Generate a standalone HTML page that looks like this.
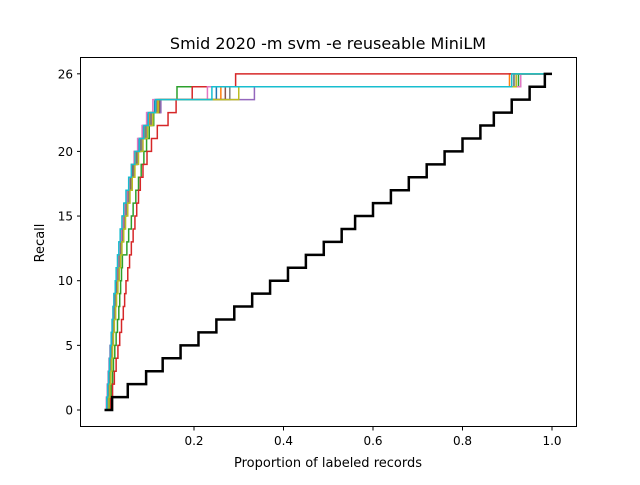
<!DOCTYPE html>
<html><head><meta charset="utf-8"><style>
body{margin:0;background:#fff;font-family:"Liberation Sans","DejaVu Sans",sans-serif}
</style></head><body>
<svg id="chart" width="640" height="480" xmlns="http://www.w3.org/2000/svg">
<rect width="640" height="480" fill="#fff"/>
<text x="328" y="49" text-anchor="middle" font-size="16" font-family="DejaVu Sans, sans-serif">Smid 2020 -m svm -e reuseable MiniLM</text>
<text x="328" y="467" text-anchor="middle" font-size="13" font-family="DejaVu Sans, sans-serif">Proportion of labeled records</text>
<text x="44" y="243" text-anchor="middle" font-size="13" font-family="DejaVu Sans, sans-serif" transform="rotate(-90 44 243)">Recall</text>
<g id="plot"></g>
<rect x="80.5" y="57.5" width="496" height="369" fill="none" stroke="#000" stroke-width="1"/>
<g id="axes"></g>
</svg>
<script>
const xTicks=[0.2,0.4,0.6,0.8,1.0];
const xTickLabels=["0.2","0.4","0.6","0.8","1.0"];
const yTicks=[0,5,10,15,20,26];
const yTickLabels=["0","5","10","15","20","26"];
const colors=["#1f77b4","#ff7f0e","#2ca02c","#d62728","#9467bd","#8c564b","#e377c2","#7f7f7f","#bcbd22","#17becf"];
const randomSteps=[0.017,0.052,0.093,0.13,0.17,0.21,0.25,0.29,0.33,0.37,0.41,0.45,0.49,0.53,0.56,0.60,0.64,0.68,0.72,0.76,0.80,0.84,0.87,0.91,0.95,0.984];
const s0=[0.006,0.008,0.010,0.012,0.014,0.016,0.018,0.020,0.022,0.025,0.028,0.031,0.034,0.038,0.042,0.046,0.050,0.056,0.062,0.068,0.076,0.086,0.096,0.112,0.25,0.915];
const s1=[0.006,0.009,0.011,0.013,0.015,0.017,0.019,0.021,0.023,0.026,0.029,0.032,0.036,0.040,0.044,0.048,0.053,0.058,0.064,0.071,0.080,0.090,0.100,0.118,0.26,0.905];
const s2=[0.012,0.015,0.018,0.020,0.023,0.026,0.029,0.032,0.034,0.036,0.038,0.040,0.050,0.054,0.060,0.064,0.070,0.076,0.082,0.088,0.094,0.100,0.110,0.125,0.162,0.925];
const s3=[0.014,0.018,0.022,0.026,0.030,0.034,0.038,0.042,0.045,0.048,0.052,0.056,0.060,0.064,0.068,0.072,0.076,0.080,0.086,0.095,0.105,0.118,0.142,0.160,0.196,0.293];
const s4=[0.008,0.010,0.012,0.014,0.016,0.018,0.020,0.022,0.024,0.027,0.030,0.033,0.036,0.040,0.044,0.048,0.054,0.060,0.066,0.074,0.084,0.094,0.104,0.126,0.335,0.93];
const s5=[0.007,0.009,0.011,0.013,0.015,0.017,0.019,0.021,0.023,0.026,0.029,0.032,0.035,0.039,0.043,0.047,0.052,0.058,0.064,0.072,0.080,0.092,0.104,0.122,0.27,0.92];
const s6=[0.004,0.006,0.008,0.010,0.012,0.015,0.017,0.019,0.021,0.024,0.027,0.030,0.033,0.037,0.041,0.045,0.050,0.055,0.060,0.066,0.074,0.084,0.094,0.108,0.23,0.93];
const s7=[0.007,0.009,0.011,0.013,0.016,0.018,0.020,0.023,0.025,0.028,0.031,0.034,0.037,0.041,0.045,0.049,0.054,0.060,0.066,0.073,0.082,0.092,0.103,0.116,0.28,0.915];
const s8=[0.010,0.012,0.014,0.016,0.018,0.020,0.022,0.025,0.027,0.030,0.033,0.036,0.039,0.043,0.047,0.052,0.057,0.062,0.068,0.076,0.086,0.096,0.108,0.120,0.30,0.92];
const s9=[0.005,0.007,0.009,0.011,0.013,0.015,0.017,0.019,0.021,0.024,0.026,0.029,0.032,0.035,0.039,0.043,0.048,0.054,0.060,0.068,0.078,0.088,0.098,0.114,0.24,0.91];
const series=[s0,s1,s2,s3,s4,s5,s6,s7,s8,s9];
const NS="http://www.w3.org/2000/svg";
function xs(v){return 104.5+v*447.5;}
function ys(v){return 410-v*12.93;}
function stepPath(steps,xEnd){
  let d="M"+xs(0)+","+ys(0);
  for(let i=0;i<steps.length;i++){d+=" H"+xs(steps[i])+" V"+ys(i+1);}
  d+=" H"+xs(xEnd);
  return d;
}
const plot=document.getElementById('plot');
series.forEach((s,i)=>{
  const p=document.createElementNS(NS,'path');
  p.setAttribute('d',stepPath(s,0.985));
  p.setAttribute('fill','none');p.setAttribute('stroke',colors[i]);p.setAttribute('stroke-width','1.5');
  
  
  plot.appendChild(p);
});
const rb=document.createElementNS(NS,'path');
rb.setAttribute('d',stepPath(randomSteps,1.0));
rb.setAttribute('fill','none');rb.setAttribute('stroke','#000');rb.setAttribute('stroke-width','2.5');


plot.appendChild(rb);
const axes=document.getElementById('axes');
xTicks.forEach((t,i)=>{
  const l=document.createElementNS(NS,'line');
  l.setAttribute('x1',xs(t));l.setAttribute('x2',xs(t));l.setAttribute('y1',427);l.setAttribute('y2',430.5);l.setAttribute('stroke','#000');
  
  
  axes.appendChild(l);
  const tx=document.createElementNS(NS,'text');
  tx.setAttribute('x',xs(t));tx.setAttribute('y',445);tx.setAttribute('text-anchor','middle');tx.setAttribute('font-size','12');tx.setAttribute('font-family','DejaVu Sans, sans-serif');
  tx.textContent=xTickLabels[i];
  
  
  axes.appendChild(tx);
});
yTicks.forEach((t,i)=>{
  const l=document.createElementNS(NS,'line');
  l.setAttribute('x1',77);l.setAttribute('x2',80.5);l.setAttribute('y1',ys(t));l.setAttribute('y2',ys(t));l.setAttribute('stroke','#000');
  
  
  axes.appendChild(l);
  const tx=document.createElementNS(NS,'text');
  tx.setAttribute('x',73);tx.setAttribute('y',ys(t)+4.5);tx.setAttribute('text-anchor','end');tx.setAttribute('font-size','12');tx.setAttribute('font-family','DejaVu Sans, sans-serif');
  tx.textContent=yTickLabels[i];
  
  
  axes.appendChild(tx);
});
</script>
</body></html>
